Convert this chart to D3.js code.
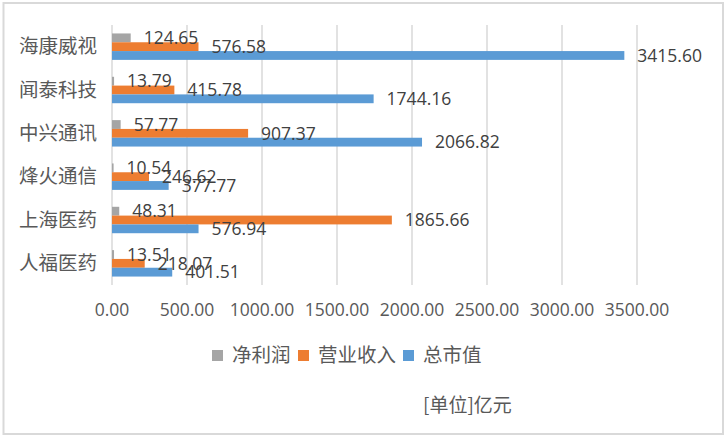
<!DOCTYPE html>
<html>
<head>
<meta charset="utf-8">
<script src="https://cdn.jsdelivr.net/npm/d3@7"></script>
<style>
  html, body { margin: 0; padding: 0; background: #fff; }
</style>
</head>
<body>
<div id="chart"></div>
<script>
// Data (亿元)
const categories = ['海康威视', '闻泰科技', '中兴通讯', '烽火通信', '上海医药', '人福医药'];
const seriesNames = ['净利润', '营业收入', '总市值'];
const netProfit = [124.65, 13.79, 57.77, 10.54, 48.31, 13.51];
const revenue = [576.58, 415.78, 907.37, 246.62, 1865.66, 218.07];
const marketCap = [3415.60, 1744.16, 2066.82, 377.77, 576.94, 401.51];
const xTicks = [0, 500, 1000, 1500, 2000, 2500, 3000, 3500];
const colors = ['#a5a5a5', '#ed7d31', '#5b9bd5'];

const W = 728, H = 438;
const numFont = '"Open Sans", sans-serif';
const cjkFont = '"Noto Sans CJK SC", sans-serif';

const svg = d3.select('#chart')
  .append('svg')
  .attr('width', W)
  .attr('height', H)
  .style('display', 'block');

// outer border
svg.append('rect')
  .attr('x', 3.5).attr('y', 3)
  .attr('width', 719.5).attr('height', 431)
  .attr('fill', '#fff')
  .attr('stroke', '#d9d9d9')
  .attr('stroke-width', 2);

const plot = { left: 112, right: 637, top: 25, bottom: 285 };

const x = d3.scaleLinear()
  .domain([0, 3500])
  .range([plot.left, plot.right]);

const y = d3.scaleBand()
  .domain(categories)
  .range([plot.top, plot.bottom])
  .paddingInner(0.39)
  .paddingOuter(0.195);

const ySub = d3.scaleBand()
  .domain(seriesNames)
  .range([0, y.bandwidth()]);

// gridlines
svg.append('g')
  .selectAll('line')
  .data(xTicks)
  .join('line')
  .attr('x1', d => x(d)).attr('x2', d => x(d))
  .attr('y1', plot.top).attr('y2', plot.bottom)
  .attr('stroke', '#d9d9d9')
  .attr('stroke-width', 1.5);

// x tick labels
svg.append('g')
  .selectAll('text')
  .data(xTicks)
  .join('text')
  .attr('x', d => x(d))
  .attr('y', 316)
  .attr('text-anchor', 'middle')
  .attr('font-family', numFont)
  .attr('font-size', 17.5)
  .attr('fill', '#595959')
  .text(d => d.toFixed(2));

// category labels
svg.append('g')
  .selectAll('text')
  .data(categories)
  .join('text')
  .attr('x', 97)
  .attr('y', d => y(d) + y.bandwidth() / 2)
  .attr('dy', '0.35em')
  .attr('text-anchor', 'end')
  .attr('font-family', cjkFont)
  .attr('font-size', 19.5)
  .attr('fill', '#595959')
  .text(d => d);

// bars
const seriesData = [netProfit, revenue, marketCap];
const rows = [];
seriesData.forEach((vals, si) => {
  vals.forEach((v, ci) => rows.push({ cat: categories[ci], s: seriesNames[si], si, v }));
});

svg.append('g')
  .selectAll('rect')
  .data(rows)
  .join('rect')
  .attr('x', x(0))
  .attr('y', d => y(d.cat) + ySub(d.s))
  .attr('width', d => x(d.v) - x(0))
  .attr('height', ySub.bandwidth())
  .attr('fill', d => colors[d.si]);

// data labels
svg.append('g')
  .selectAll('text')
  .data(rows)
  .join('text')
  .attr('x', d => x(d.v) + 13)
  .attr('y', d => y(d.cat) + ySub(d.s) + ySub.bandwidth() / 2)
  .attr('dy', '0.36em')
  .attr('font-family', numFont)
  .attr('font-size', 17.5)
  .attr('fill', '#404040')
  .text(d => d.v.toFixed(2));

// legend
const legendX = [212, 298, 403];
const legend = svg.append('g')
  .selectAll('g')
  .data(seriesNames)
  .join('g')
  .attr('transform', (d, i) => `translate(${legendX[i]},350)`);

legend.append('rect')
  .attr('width', 11).attr('height', 11)
  .attr('fill', (d, i) => colors[i]);

legend.append('text')
  .attr('x', 20)
  .attr('y', 5.5)
  .attr('dy', '0.35em')
  .attr('font-family', cjkFont)
  .attr('font-size', 19.5)
  .attr('fill', '#595959')
  .text(d => d);

// unit note
svg.append('text')
  .attr('x', 423)
  .attr('y', 405)
  .attr('dy', '0.35em')
  .attr('font-family', cjkFont)
  .attr('font-size', 19)
  .attr('fill', '#595959')
  .text('[单位]亿元');
</script>
</body>
</html>
